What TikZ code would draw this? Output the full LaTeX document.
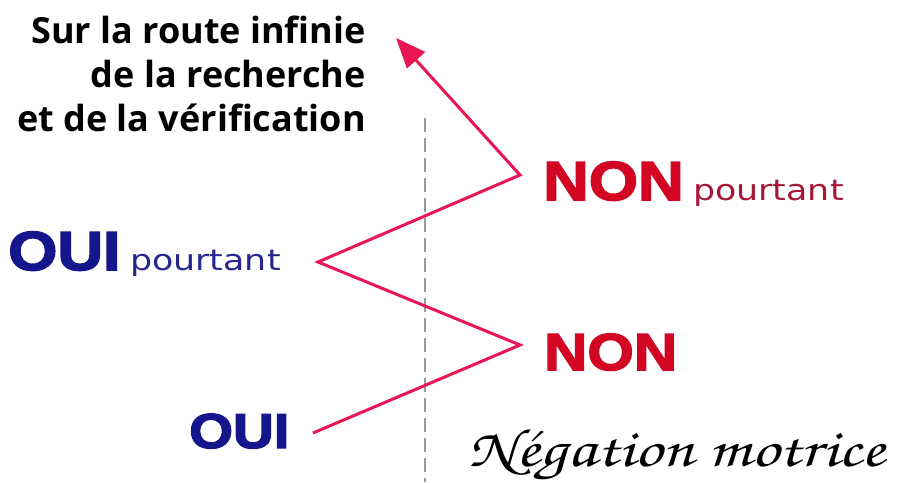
\documentclass[tikz,border=0pt]{standalone}
\usepackage{fontspec}
\setmainfont{Open Sans}
\newfontfamily\heavyfont[FakeBold=3,FakeStretch=1.15]{Liberation Sans Bold}
\newfontfamily\softfont[FakeStretch=1.2]{DejaVu Sans}
\usetikzlibrary{arrows.meta}
\definecolor{zigred}{RGB}{232,22,82}
\definecolor{ouiblue}{RGB}{22,22,140}
\definecolor{pourblue}{RGB}{40,40,140}
\definecolor{nonred}{RGB}{210,5,35}
\definecolor{pourred}{RGB}{165,25,55}
\begin{document}
\begin{tikzpicture}[x=1pt,y=-1pt,
  big/.style={font=\heavyfont\fontsize{#1}{#1}\selectfont, anchor=base west, inner sep=0pt},
  small/.style={font=\softfont\fontsize{29}{29}\selectfont, anchor=base west, inner sep=0pt},
  title/.style={font=\fontsize{36}{44}\selectfont\bfseries, align=right, anchor=north east, inner sep=0pt},
  zigzag/.style={draw=zigred, line width=3pt, line join=miter}]
\useasboundingbox (0,0) rectangle (905,482);
% dashed axis
\coordinate (axtop) at (425,118);
\coordinate (axbot) at (425,482);
\draw[gray!80, line width=1.2pt, dash pattern=on 14pt off 6pt] (axtop) -- (axbot);
% title
\node[title] (ttl) at (366,16) {Sur la route infinie\\de la recherche\\et de la vérification};
% labels
\node[big=49, text=ouiblue] (oui1) at (189,448) {OUI};
\node[big=52, text=nonred] (non1) at (544,370) {NON};
\node[big=55, text=ouiblue] (oui2) at (8,270) {OUI};
\node[small, text=pourblue] (p2) at (130,270) {pourtant};
\node[big=55, text=nonred] (non2) at (543,200) {NON};
\node[small, text=pourred] (p3) at (693,200) {pourtant};
\node[anchor=base west, inner sep=0pt, xscale=1.27, transform shape,
      font={\fontencoding{T1}\fontfamily{pzc}\fontseries{mb}\fontshape{it}\fontsize{54}{54}\selectfont}] (neg) at (468,466) {Négation motrice};
% zigzag path
\coordinate (z0) at (313,433);
\coordinate (z1) at (520,345);
\coordinate (z2) at (318,262);
\coordinate (z3) at (520,175);
\coordinate (z4) at (396,38);
\draw[zigzag, -{Triangle[length=30pt,width=24pt]}] (z0) -- (z1) -- (z2) -- (z3) -- (z4);
\end{tikzpicture}
\end{document}
